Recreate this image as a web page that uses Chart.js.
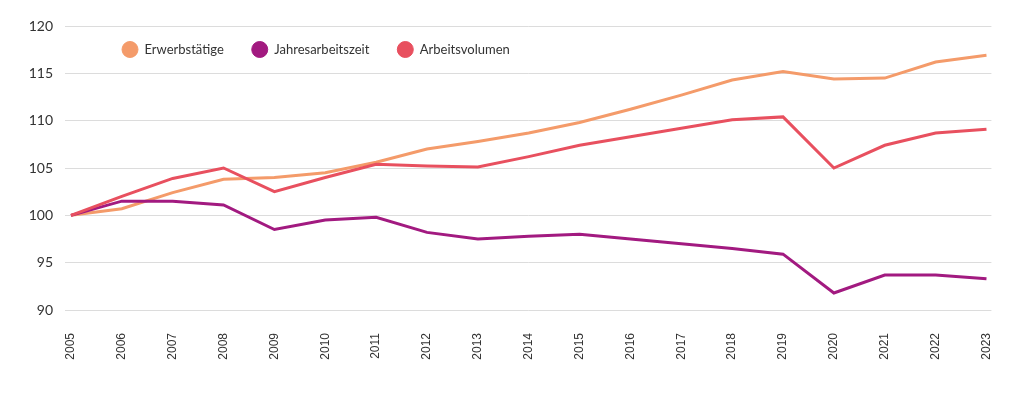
<!DOCTYPE html>
<html>
<head>
<meta charset="utf-8">
<script src="https://cdn.jsdelivr.net/npm/chart.js@4"></script>
<style>
  html, body { margin: 0; padding: 0; background: #ffffff; }
  #wrap { width: 1024px; height: 415px; }
</style>
</head>
<body>
<div id="wrap"><canvas id="c" width="1024" height="415"></canvas></div>
<script>
const years = [2005, 2006, 2007, 2008, 2009, 2010, 2011, 2012, 2013, 2014, 2015, 2016, 2017, 2018, 2019, 2020, 2021, 2022, 2023];
const erwerbstaetige = [100, 100.7, 102.4, 103.8, 104.0, 104.5, 105.6, 107.0, 107.8, 108.7, 109.8, 111.2, 112.7, 114.3, 115.2, 114.4, 114.5, 116.2, 116.9];
const jahresarbeitszeit = [100, 101.5, 101.5, 101.1, 98.5, 99.5, 99.8, 98.2, 97.5, 97.8, 98.0, 97.5, 97.0, 96.5, 95.9, 91.8, 93.7, 93.7, 93.3];
const arbeitsvolumen = [100, 102.0, 103.9, 105.0, 102.5, 104.0, 105.4, 105.2, 105.1, 106.2, 107.4, 108.3, 109.2, 110.1, 110.4, 105.0, 107.4, 108.7, 109.1];
const seriesNames = ['Erwerbstätige', 'Jahresarbeitszeit', 'Arbeitsvolumen'];
const yTicks = [90, 95, 100, 105, 110, 115, 120];

const toXY = (arr) => arr.map((v, i) => ({ x: years[i], y: v }));

const legendMover = {
  id: 'legendMover',
  afterInit(chart) {
    const lg = chart.legend;
    if (!lg || lg._patched) return;
    const origFit = lg.fit;
    lg.fit = function () { origFit.call(this); this.height = 0; };
    lg._patched = true;
  },
  afterLayout(chart) {
    const lg = chart.legend;
    if (!lg) return;
    const pad = lg.options.labels.padding;
    const w = lg.right - lg.left;
    lg.left = 94;
    lg.right = lg.left + w;
    lg.top = 50 - pad - 7;
    lg.bottom = lg.top + 120;
  }
};

new Chart(document.getElementById('c'), {
  type: 'line',
  data: {
    datasets: [
      { label: seriesNames[0], data: toXY(erwerbstaetige), borderColor: '#F49B6A', backgroundColor: '#F49B6A', order: 3 },
      { label: seriesNames[1], data: toXY(jahresarbeitszeit), borderColor: '#A21A80', backgroundColor: '#A21A80', order: 2 },
      { label: seriesNames[2], data: toXY(arbeitsvolumen), borderColor: '#E8505F', backgroundColor: '#E8505F', order: 1 }
    ]
  },
  options: {
    responsive: false,
    animation: false,
    devicePixelRatio: 1,
    elements: {
      line: { borderWidth: 3, tension: 0 },
      point: { radius: 0, hoverRadius: 0 }
    },
    layout: { padding: { top: 26, right: 22, bottom: 0, left: 0 } },
    plugins: {
      tooltip: { enabled: false },
      legend: {
        position: 'top',
        align: 'start',
        labels: {
          usePointStyle: true,
          pointStyle: 'circle',
          pointStyleWidth: 16,
          boxHeight: 11.3,
          padding: 28,
          color: '#333333',
          font: { family: 'Lato', size: 13 },
          sort: (a, b) => a.datasetIndex - b.datasetIndex
        }
      }
    },
    scales: {
      x: {
        type: 'linear',
        min: 2004.883,
        max: 2023.097,
        grid: { display: false, drawTicks: false },
        border: { display: false },
        afterBuildTicks(scale) { scale.ticks = years.map(v => ({ value: v })); },
        afterFit(scale) { scale.height = 105; },
        ticks: {
          autoSkip: false,
          minRotation: 90,
          maxRotation: 90,
          padding: 23,
          color: '#333333',
          font: { family: 'Liberation Sans', size: 12 },
          callback: (v) => String(v)
        }
      },
      y: {
        min: 90,
        max: 120,
        grid: { color: '#dcdcdc', lineWidth: 1, drawTicks: false },
        border: { display: false },
        afterBuildTicks(scale) { scale.ticks = yTicks.map(v => ({ value: v })); },
        afterFit(scale) { scale.width = 65; },
        ticks: {
          padding: 12,
          color: '#333333',
          font: { family: 'Lato', size: 14 },
          callback: (v) => String(v)
        }
      }
    }
  },
  plugins: [legendMover]
});
</script>
</body>
</html>
